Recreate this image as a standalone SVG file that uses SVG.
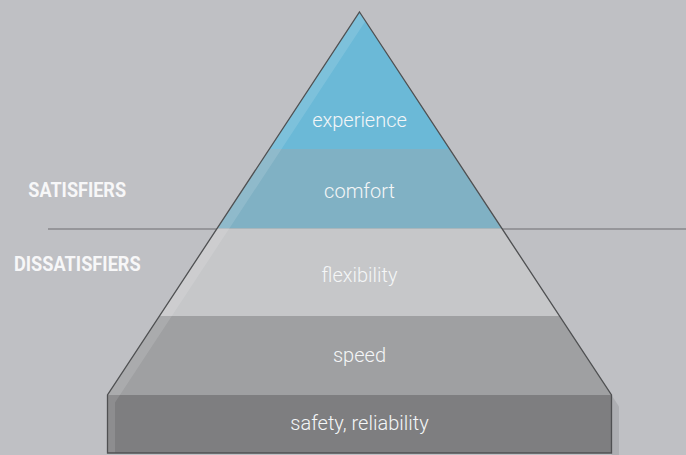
<svg xmlns="http://www.w3.org/2000/svg" width="686" height="455" viewBox="0 0 686 455">
<style>
.band-label{font-family:Roboto,"Liberation Sans",sans-serif;font-weight:300;font-size:20px;fill:#f4f6f7;text-anchor:middle}
.side-label{font-family:"Liberation Sans Narrow","Roboto","Liberation Sans",sans-serif;font-weight:bold;font-size:19.5px;fill:#f7f7f8}
.outline{fill:none;stroke:#4f5052;stroke-width:1.3;stroke-linejoin:miter}
</style>
<rect x="0" y="0" width="686" height="455" fill="#bfc0c4"/>
<g id="divider">
<line x1="48" y1="229" x2="686" y2="229" stroke="#88898c" stroke-width="1.6"/>
</g>
<g id="shadow">
<polygon points="611.5,395 619,406.4 619,455 611.5,455" fill="#000" fill-opacity="0.09"/>
</g>
<g id="experience">
<polygon points="359.5,12 449.64,149 269.36,149" fill="#6bb9d7"/>
<text class="band-label" x="359.5" y="127">experience</text>
</g>
<g id="comfort">
<polygon points="269.36,149 449.64,149 501.95,228.5 217.05,228.5" fill="#80b1c4"/>
<text class="band-label" x="359.5" y="198">comfort</text>
</g>
<g id="flexibility">
<polygon points="217.05,228.5 501.95,228.5 559.52,316 159.48,316" fill="#c6c7c9"/>
<text class="band-label" x="359.5" y="282">flexibility</text>
</g>
<g id="speed">
<polygon points="159.48,316 559.52,316 611.5,395 107.5,395" fill="#9fa0a2"/>
<text class="band-label" x="359.5" y="362">speed</text>
</g>
<g id="safety">
<rect x="107.5" y="395" width="504" height="58" fill="#7e7e80"/>
<text class="band-label" x="359.5" y="429.5">safety, reliability</text>
</g>
<g id="highlight">
<polygon points="359.5,12 107.5,395 107.5,453 115,453 115,402.6 365.5,21.1" fill="#fff" fill-opacity="0.12"/>
</g>
<g id="pyramid-outline">
<polygon class="outline" points="359.5,12 611.5,395 611.5,453 107.5,453 107.5,395"/>
</g>
<g id="satisfiers">
<text class="side-label" x="28.3" y="197.3" textLength="97.7" lengthAdjust="spacingAndGlyphs">SATISFIERS</text>
</g>
<g id="dissatisfiers">
<text class="side-label" x="14" y="270.5" textLength="126.7" lengthAdjust="spacingAndGlyphs">DISSATISFIERS</text>
</g>
</svg>
